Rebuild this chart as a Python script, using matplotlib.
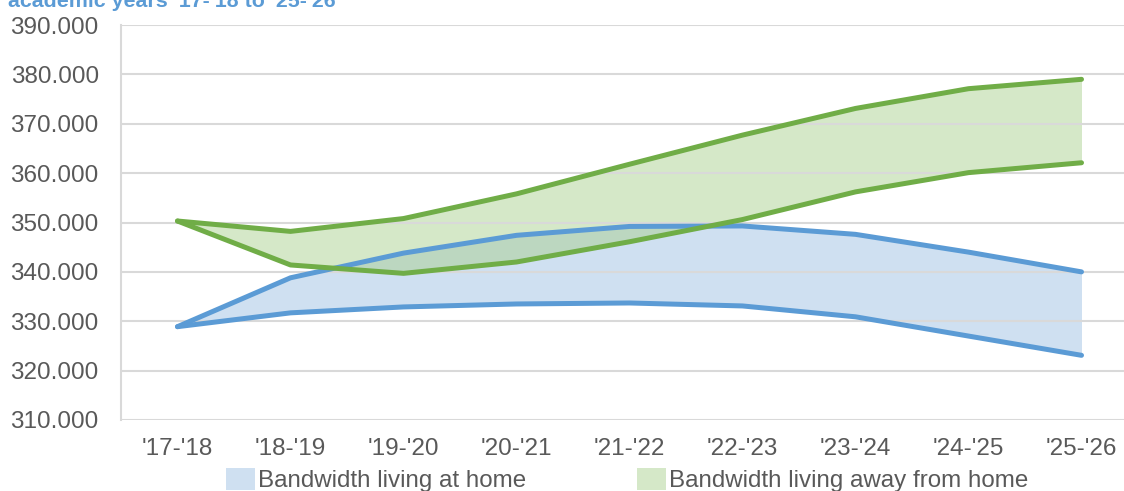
import matplotlib
matplotlib.use("Agg")
import matplotlib.pyplot as plt
from matplotlib.patches import Patch
from matplotlib.ticker import FuncFormatter

plt.rcParams['font.family'] = ['Liberation Sans', 'DejaVu Sans']

years = ["'17-'18", "'18-'19", "'19-'20", "'20-'21", "'21-'22",
         "'22-'23", "'23-'24", "'24-'25", "'25-'26"]
home_high = [328900, 338800, 343800, 347400, 349200, 349300, 347600, 344000, 340000]
home_low = [328900, 331700, 332900, 333500, 333700, 333100, 330900, 327000, 323100]
away_high = [350300, 348200, 350800, 355800, 361800, 367700, 373100, 377100, 379000]
away_low = [350300, 341400, 339700, 342000, 346100, 350600, 356200, 360100, 362100]
title = "academic years '17-'18 to '25-'26"
legend_labels = ["Bandwidth living at home", "Bandwidth living away from home"]

W, H = 1124, 491
fig = plt.figure(figsize=(W / 100, H / 100), dpi=100)
ax = fig.add_axes([121 / W, 1 - 420 / H, (1138 - 121) / W, (420 - 25) / H])

x = list(range(len(years)))
blue = '#5b9bd5'
green = '#70ad47'

ax.fill_between(x, home_low, home_high, color='#cfe0f1', lw=0, zorder=1)
ax.fill_between(x, away_low, away_high, color='#a8cf8c', alpha=0.48, lw=0, zorder=1.1)
ax.plot(x, home_high, color=blue, lw=3.6, solid_capstyle='round', solid_joinstyle='round', zorder=3)
ax.plot(x, home_low, color=blue, lw=3.6, solid_capstyle='round', solid_joinstyle='round', zorder=3)
ax.plot(x, away_high, color=green, lw=3.6, solid_capstyle='round', solid_joinstyle='round', zorder=4)
ax.plot(x, away_low, color=green, lw=3.6, solid_capstyle='round', solid_joinstyle='round', zorder=4)

ax.set_xlim(-0.5, len(years) - 0.5)
ax.set_ylim(310000, 390000)
ax.set_yticks(range(310000, 390001, 10000))
ax.yaxis.set_major_formatter(FuncFormatter(lambda v, p: f"{int(v):,}".replace(',', '.')))
ax.set_xticks(x)
ax.set_xticklabels(years)
ax.grid(axis='y', color='#d9d9d9', lw=1.5, zorder=0)
for s in ['top', 'right', 'bottom']:
    ax.spines[s].set_visible(False)
ax.spines['left'].set_color('#d9d9d9')
ax.spines['left'].set_linewidth(1.5)
ax.tick_params(axis='both', length=0, labelsize=17.5, labelcolor='#595959')
ax.tick_params(axis='y', pad=16)
ax.tick_params(axis='x', pad=13)

fig.text(8 / W, 1 - 7 / H, title, color=blue, fontsize=15.4, fontweight='bold',
         ha='left', va='baseline')

handles = [Patch(facecolor='#cfe0f1', edgecolor='none'),
           Patch(facecolor='#d5e8c8', edgecolor='none')]
fig.legend(handles, legend_labels, loc='upper left', bbox_to_anchor=(226 / W, 1 - 468 / H),
           ncol=2, frameon=False, fontsize=17.4, labelcolor='#595959',
           handlelength=1.2, handleheight=1.0, handletextpad=0.12,
           columnspacing=4.6, borderpad=0, borderaxespad=0)

fig.savefig('out.png', dpi=100)
